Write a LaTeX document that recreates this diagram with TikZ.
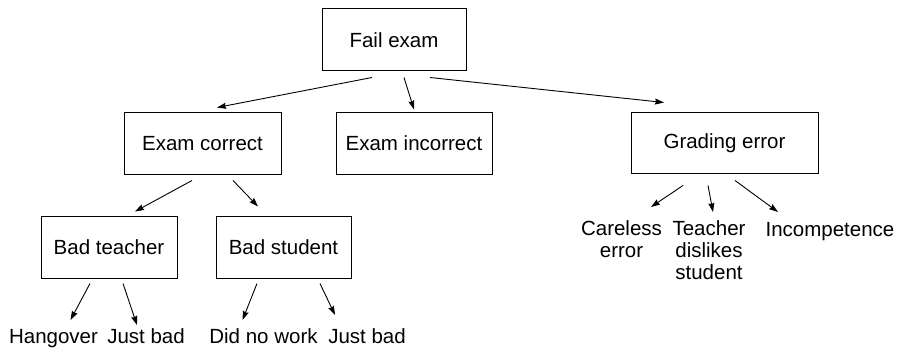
\documentclass[tikz,border=0pt]{standalone}
\usepackage{fontspec}
\setmainfont{Liberation Sans}
\usetikzlibrary{arrows.meta}
\begin{document}
\begin{tikzpicture}[x=1pt,y=-1pt,
  every node/.style={font=\fontsize{20.5}{22}\selectfont},
  box/.style={draw,line width=1pt,inner sep=0pt},
  leaf/.style={inner sep=0pt,anchor=base},
  leafm/.style={inner sep=0pt,anchor=north,align=center},
  arr/.style={-{Stealth[length=9pt,width=6pt,inset=1pt]},line width=0.9pt}]
\useasboundingbox (0,0) rectangle (902,350);

% decision boxes
\node[box,minimum width=144pt,minimum height=62pt] (fail) at (394,40) {Fail exam};
\node[box,minimum width=157pt,minimum height=61pt] (ec) at (202.5,143.5) {Exam correct};
\node[box,minimum width=156pt,minimum height=61pt] (ei) at (414,143.5) {Exam incorrect};
\node[box,minimum width=187pt,minimum height=60pt] (ge) at (724.5,143) {Grading error};
\node[box,minimum width=136pt,minimum height=62pt] (bt) at (109,247) {Bad teacher};
\node[box,minimum width=135pt,minimum height=62pt] (bs) at (283.5,247) {Bad student};

% leaf causes
\node[leaf] (hang) at (53.5,343) {Hangover};
\node[leaf] (jb1) at (146,343) {Just bad};
\node[leaf] (dnw) at (263.5,343) {Did no work};
\node[leaf] (jb2) at (367,343) {Just bad};
\node[leafm] (care) at (621.5,220.5) {Careless\\error};
\node[leafm] (tds) at (709,220.5) {Teacher\\dislikes\\student};
\node[leaf] (inc) at (830,236) {Incompetence};

% connectors
\draw[arr] ([shift={(-22,6)}]fail.south) -- ([shift={(14.5,-5)}]ec.north);
\draw[arr] ([shift={(10,6)}]fail.south) -- ([shift={(0,-3)}]ei.north);
\draw[arr] ([shift={(36,6)}]fail.south) -- ([shift={(-60.5,-10)}]ge.north);
\draw[arr] ([shift={(-10.5,6)}]ec.south) -- ([shift={(26,-4)}]bt.north);
\draw[arr] ([shift={(30.5,6)}]ec.south) -- ([shift={(-25.5,-9)}]bs.north);
\draw[arr] ([shift={(-19,5)}]bt.south) -- ([shift={(17,-23)}]hang.base);
\draw[arr] ([shift={(14,5)}]bt.south) -- ([shift={(-9,-18)}]jb1.base);
\draw[arr] ([shift={(-26.5,5)}]bs.south) -- ([shift={(-21,-23)}]dnw.base);
\draw[arr] ([shift={(36.5,5)}]bs.south) -- ([shift={(-32,-28)}]jb2.base);
\draw[arr] ([shift={(-41.5,12)}]ge.south) -- ([shift={(29.5,-13.5)}]care.north);
\draw[arr] ([shift={(-16.5,12)}]ge.south) -- ([shift={(4,-8.5)}]tds.north);
\draw[arr] ([shift={(10.5,7)}]ge.south) -- ([shift={(-52,-24)}]inc.base);
\end{tikzpicture}
\end{document}
